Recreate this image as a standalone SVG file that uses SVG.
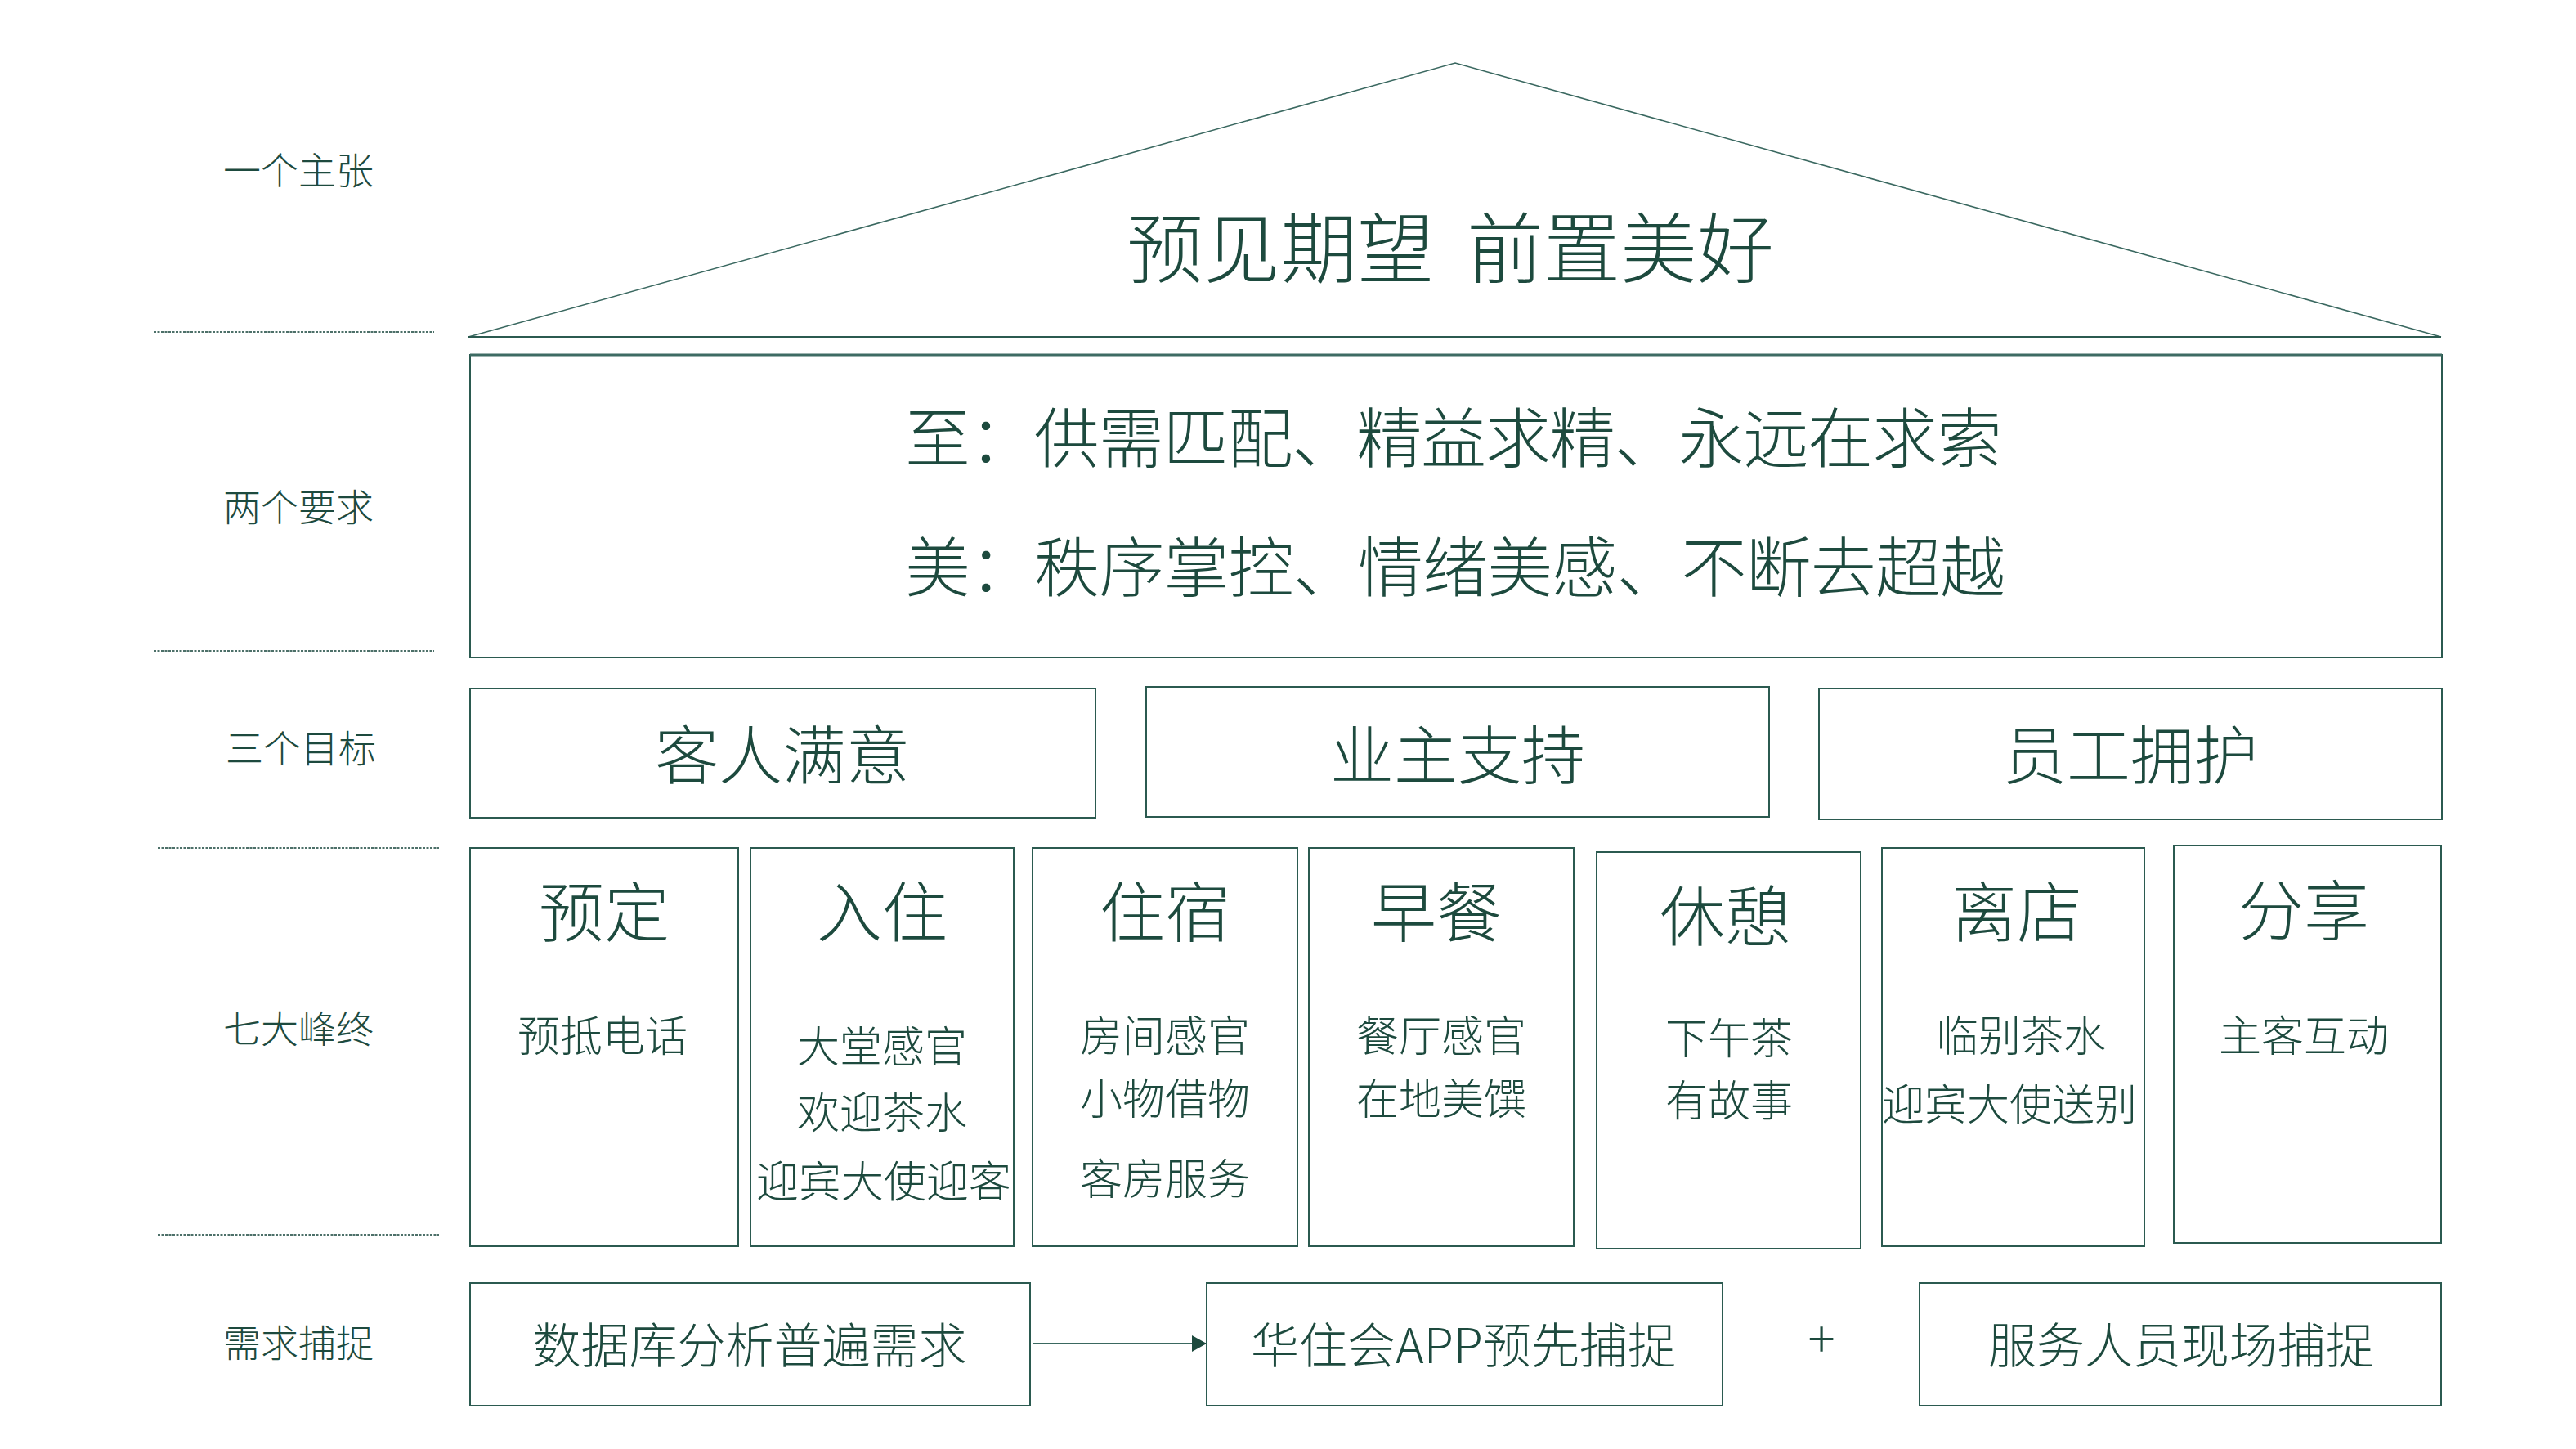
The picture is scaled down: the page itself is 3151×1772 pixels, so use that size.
<svg xmlns="http://www.w3.org/2000/svg" width="3151" height="1772" viewBox="0 0 3151 1772">
<style>
text{font-family:"Noto Sans CJK SC","Noto Sans",sans-serif;fill:#1d4a3e;font-weight:300}
.lbl{font-size:46px;text-anchor:middle}
.box{fill:none;stroke:#2b5a50;stroke-width:2}
.sep{stroke:#4d7069;stroke-width:2;stroke-dasharray:3 1.5}
.roof{fill:none;stroke:#3a6860;stroke-width:1.6}
.t80{font-size:80px;text-anchor:middle}
.t78{font-size:78px;text-anchor:middle}
.t52{font-size:52px;text-anchor:middle}
.t59{font-size:59px;text-anchor:middle}
.t94{font-size:94px;text-anchor:middle}
</style>
<defs>
<marker id="ah2" viewBox="0 0 18 20" refX="18" refY="10" markerWidth="18" markerHeight="20" markerUnits="userSpaceOnUse" orient="auto">
<path d="M0,0 L18,10 L0,20 Z" fill="#1d4a3e"/>
</marker>
</defs>
<rect width="3151" height="1772" fill="#fff"/>

<g id="labels">
<text class="lbl" x="365" y="225">一个主张</text>
<text class="lbl" x="365" y="637">两个要求</text>
<text class="lbl" x="368" y="932">三个目标</text>
<text class="lbl" x="365" y="1275">七大峰终</text>
<text class="lbl" x="365" y="1659">需求捕捉</text>
</g>

<g id="separators">
<line class="sep" x1="188" y1="406" x2="531" y2="406"/>
<line class="sep" x1="188" y1="796" x2="531" y2="796"/>
<line class="sep" x1="193" y1="1037" x2="537" y2="1037"/>
<line class="sep" x1="193" y1="1510" x2="537" y2="1510"/>
</g>

<g id="roof">
<path class="roof" d="M573,412 L1780,77 L2986,412"/>
<line x1="573" y1="412" x2="2986" y2="412" stroke="#2b5a50" stroke-width="2"/>
<text class="t94" x="1566" y="339">预见期望</text>
<text class="t94" x="1982" y="339">前置美好</text>
</g>

<g id="requirements">
<rect class="box" x="575" y="434" width="2412" height="370"/>
<line x1="575" y1="434" x2="2987" y2="434" stroke="#3d6b63" stroke-width="3"/>
<text x="1107" y="565" font-size="80" textLength="1342" lengthAdjust="spacing">至：供需匹配、精益求精、永远在求索</text>
<text x="1107" y="723" font-size="80" textLength="1346" lengthAdjust="spacing">美：秩序掌控、情绪美感、不断去超越</text>
</g>

<g id="goal-guest">
<rect class="box" x="575" y="842" width="765" height="158"/>
<text class="t78" x="957" y="953">客人满意</text>
</g>
<g id="goal-owner">
<rect class="box" x="1402" y="840" width="762" height="159"/>
<text class="t78" x="1783" y="953">业主支持</text>
</g>
<g id="goal-staff">
<rect class="box" x="2225" y="842" width="762" height="160"/>
<text class="t78" x="2606" y="953">员工拥护</text>
</g>

<g id="peak-booking">
<rect class="box" x="575" y="1037" width="328" height="487"/>
<text class="t80" x="739" y="1145">预定</text>
<text class="t52" x="737" y="1286">预抵电话</text>
</g>
<g id="peak-checkin">
<rect class="box" x="918" y="1037" width="322" height="487"/>
<text class="t80" x="1079" y="1145">入住</text>
<text class="t52" x="1079" y="1299">大堂感官</text>
<text class="t52" x="1079" y="1380">欢迎茶水</text>
<text class="t52" x="1081" y="1464">迎宾大使迎客</text>
</g>
<g id="peak-stay">
<rect class="box" x="1263" y="1037" width="324" height="487"/>
<text class="t80" x="1425" y="1145">住宿</text>
<text class="t52" x="1425" y="1286">房间感官</text>
<text class="t52" x="1425" y="1363">小物借物</text>
<text class="t52" x="1425" y="1461">客房服务</text>
</g>
<g id="peak-breakfast">
<rect class="box" x="1601" y="1037" width="324" height="487"/>
<text class="t80" x="1757" y="1145">早餐</text>
<text class="t52" x="1763" y="1286">餐厅感官</text>
<text class="t52" x="1763" y="1363">在地美馔</text>
</g>
<g id="peak-rest">
<rect class="box" x="1953" y="1042" width="323" height="485"/>
<text class="t80" x="2110" y="1150">休憩</text>
<text class="t52" x="2115" y="1289">下午茶</text>
<text class="t52" x="2115" y="1365">有故事</text>
</g>
<g id="peak-checkout">
<rect class="box" x="2302" y="1037" width="321" height="487"/>
<text class="t80" x="2467" y="1145">离店</text>
<text class="t52" x="2472" y="1286">临别茶水</text>
<text class="t52" x="2458" y="1370">迎宾大使送别</text>
</g>
<g id="peak-share">
<rect class="box" x="2659" y="1034" width="327" height="486"/>
<text class="t80" x="2818" y="1143">分享</text>
<text class="t52" x="2818" y="1286">主客互动</text>
</g>

<g id="capture-db">
<rect class="box" x="575" y="1569" width="685" height="150"/>
<text class="t59" x="917" y="1667">数据库分析普遍需求</text>
</g>
<g id="capture-app">
<rect class="box" x="1476" y="1569" width="631" height="150"/>
<text class="t59" x="1790" y="1667">华住会APP预先捕捉</text>
</g>
<g id="capture-staff">
<rect class="box" x="2348" y="1569" width="638" height="150"/>
<text class="t59" x="2668" y="1667">服务人员现场捕捉</text>
</g>

<g id="connectors">
<line x1="1263" y1="1643" x2="1476" y2="1643" stroke="#3a6860" stroke-width="2" marker-end="url(#ah2)"/>
<text x="2228" y="1660" font-size="62" font-weight="400" text-anchor="middle">+</text>
</g>
</svg>
